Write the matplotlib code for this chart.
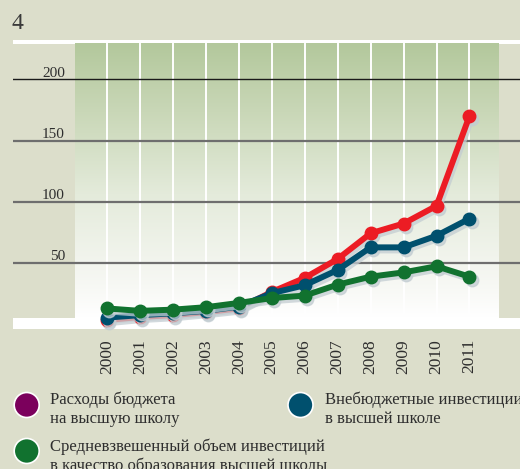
import matplotlib
matplotlib.use("Agg")
import matplotlib.pyplot as plt
import numpy as np
from matplotlib.colors import to_rgb
from matplotlib.patches import Rectangle, Circle
from matplotlib.transforms import ScaledTranslation

years = [2000, 2001, 2002, 2003, 2004, 2005, 2006, 2007, 2008, 2009, 2010, 2011]
budget = [3, 5.5, 7, 9.5, 12.5, 26, 37.5, 53, 74, 82, 96.5, 170]
offbudget = [5, 7, 8.5, 10.5, 14, 25, 31.5, 44, 62.5, 62.5, 72, 86]
weighted = [12.5, 10.5, 11.5, 13.5, 17, 21, 23, 32, 38.5, 42, 47, 38.5]
yticks = [50, 100, 150, 200]

legend_budget = ["Расходы бюджета", "на высшую школу"]
legend_offbudget = ["Внебюджетные инвестиции", "в высшей школе"]
legend_weighted = ["Средневзвешенный объем инвестиций", "в качество образования высшей школы"]

BG = "#dcdecb"
RED = "#ec1c24"
BLUE = "#00506e"
GREEN = "#11722f"
PURPLE = "#7b005c"
SHADOW = "#c3cdd2"
TEXT = "#2e2e2e"
SERIF = ["Liberation Serif", "DejaVu Serif"]

W, H = 520, 469
fig = plt.figure(figsize=(W / 100, H / 100), dpi=100, facecolor=BG)

# background axes in pixel coordinates for legend and title
bg = fig.add_axes([0, 0, 1, 1], zorder=-5)
bg.set_xlim(0, W)
bg.set_ylim(H, 0)
bg.axis("off")

# pixel -> data mapping
x0_px, dx_px = 107.0, 32.95   # 2000 position, px per year
y0_px, dy_px = 323.7, 1.2213  # zero line, px per unit


def px_to_x(px):
    return 2000 + (px - x0_px) / dx_px


def px_to_y(py):
    return (y0_px - py) / dy_px


left_px, right_px, top_px, bot_px = 13, 520, 40, 329
ax = fig.add_axes([left_px / W, 1 - bot_px / H, (right_px - left_px) / W, (bot_px - top_px) / H])
ax.set_xlim(px_to_x(left_px), px_to_x(right_px))
ax.set_ylim(px_to_y(bot_px), px_to_y(top_px))
ax.set_facecolor("white")
for s in ax.spines.values():
    s.set_visible(False)
ax.set_xticks([])
ax.set_yticks([])

# panel: gradient between x 75..499, y 44..318
gx0, gx1 = px_to_x(75), px_to_x(499)
gy0, gy1 = px_to_y(318), px_to_y(44)
t = np.linspace(0, 1, 256)
stops_t = [0.0, 0.12, 0.45, 0.75, 1.0]
stops_c = ["#ffffff", "#f7f8f4", "#e4ebdb", "#c9d7b7", "#b3c89c"]
rgb = np.array([to_rgb(c) for c in stops_c])
grad = np.stack([np.interp(t, stops_t, rgb[:, k]) for k in range(3)], axis=-1)[::-1]
ax.imshow(grad[:, None, :], extent=(gx0, gx1, gy0, gy1), aspect="auto", zorder=0, interpolation="bilinear")
ax.add_patch(Rectangle((ax.get_xlim()[0], gy0), gx0 - ax.get_xlim()[0], gy1 - gy0, color=BG, zorder=0.5, lw=0))
ax.add_patch(Rectangle((gx1, gy0), ax.get_xlim()[1] - gx1, gy1 - gy0, color=BG, zorder=0.5, lw=0))

for yr in years:
    ax.plot([yr, yr], [gy0, gy1], color="white", lw=1.4, zorder=1)

for v in yticks:
    ax.axhline(v, color="#1a1a1a" if v == 200 else "#6e6e6e", lw=1.0 if v == 200 else 1.6, zorder=2)
    ax.text(px_to_x(65), v + 2.2, str(v), ha="right", va="baseline", fontsize=11, family=SERIF, color=TEXT, zorder=3)

for yr in years:
    fig.text((yr - ax.get_xlim()[0]) / (ax.get_xlim()[1] - ax.get_xlim()[0]) * (right_px - left_px) / W + left_px / W,
             1 - 339 / H, str(yr), rotation=90, ha="center", va="top", fontsize=12.5, family=SERIF, color=TEXT)

shift = ax.transData + ScaledTranslation(1.5 / 72, -2.2 / 72, fig.dpi_scale_trans)
for vals, col, z in [(budget, RED, 4), (offbudget, BLUE, 6), (weighted, GREEN, 8)]:
    ax.plot(years, vals, color=SHADOW, lw=4.3, marker="o", ms=9, mec=SHADOW, transform=shift,
            zorder=z, clip_on=False, alpha=0.75, solid_joinstyle="round")
    ax.plot(years, vals, color=col, lw=4.3, marker="o", ms=9, mec=col, zorder=z + 1,
            clip_on=False, solid_joinstyle="round", solid_capstyle="round")

# title number
bg.text(12, 29, "4", fontsize=17, family=SERIF, color="#3a3a3a", va="baseline")

# legend
for (cx, cy), col, lines, tx, base in [((26.7, 405), PURPLE, legend_budget, 50, 404),
                                       ((300.5, 405), BLUE, legend_offbudget, 325, 404),
                                       ((26.7, 451), GREEN, legend_weighted, 50, 451)]:
    bg.add_patch(Circle((cx, cy), 12.5, facecolor=col, edgecolor="white", lw=1.2))
    for i, line in enumerate(lines):
        bg.text(tx, base + 18.6 * i, line, fontsize=12, family=SERIF, color=TEXT, va="baseline")

fig.savefig("out.png", dpi=100, facecolor=BG)
